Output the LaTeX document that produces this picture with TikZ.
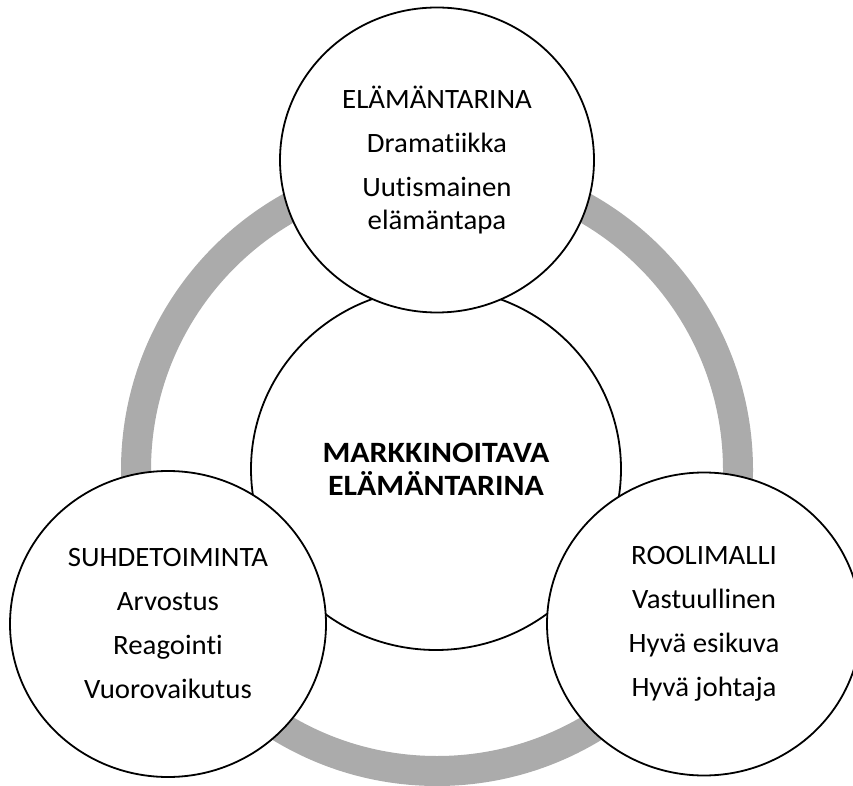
\documentclass[tikz,border=0pt]{standalone}
\usepackage{fontspec}
\setmainfont{Carlito}[Ligatures=NoCommon,FakeStretch=1.03]
\usetikzlibrary{shapes.geometric}
\definecolor{ringgray}{RGB}{171,171,171}

\begin{document}
\begin{tikzpicture}[x=1pt,y=1pt,line join=round,
  every node/.style={font=\fontsize{28}{32.5}\selectfont},
  theme/.style={ellipse,draw=black,line width=1.8pt,fill=white,
    inner sep=0pt,align=center}]
  \useasboundingbox (0,0) rectangle (853,785);
  \clip (0,0) rectangle (853,785);
  % grey ring behind everything
  \draw[line width=30pt,ringgray] (437,315) circle[radius=301pt];
  \node[theme,minimum width=370pt,minimum height=362pt,
    font=\fontsize{29.5}{33}\selectfont\bfseries\addfontfeatures{FakeStretch=1.08}]
    (core) at (436,316) {MARKKINOITAVA\\ELÄMÄNTARINA};
  \node[theme,minimum width=314pt,minimum height=305pt] (story) at (437,625)
    {ELÄMÄNTARINA\\[11.5pt]Dramatiikka\\[11.5pt]Uutismainen\\elämäntapa};
  \node[theme,minimum width=316pt,minimum height=306pt] (relations) at (168,161)
    {SUHDETOIMINTA\\[11.5pt]Arvostus\\[11.5pt]Reagointi\\[11.5pt]Vuorovaikutus};
  \node[theme,minimum width=314pt,minimum height=303pt] (rolemodel) at (704,161)
    {ROOLIMALLI\\[11.5pt]Vastuullinen\\[11.5pt]Hyvä esikuva\\[11.5pt]Hyvä johtaja};
\end{tikzpicture}
\end{document}
